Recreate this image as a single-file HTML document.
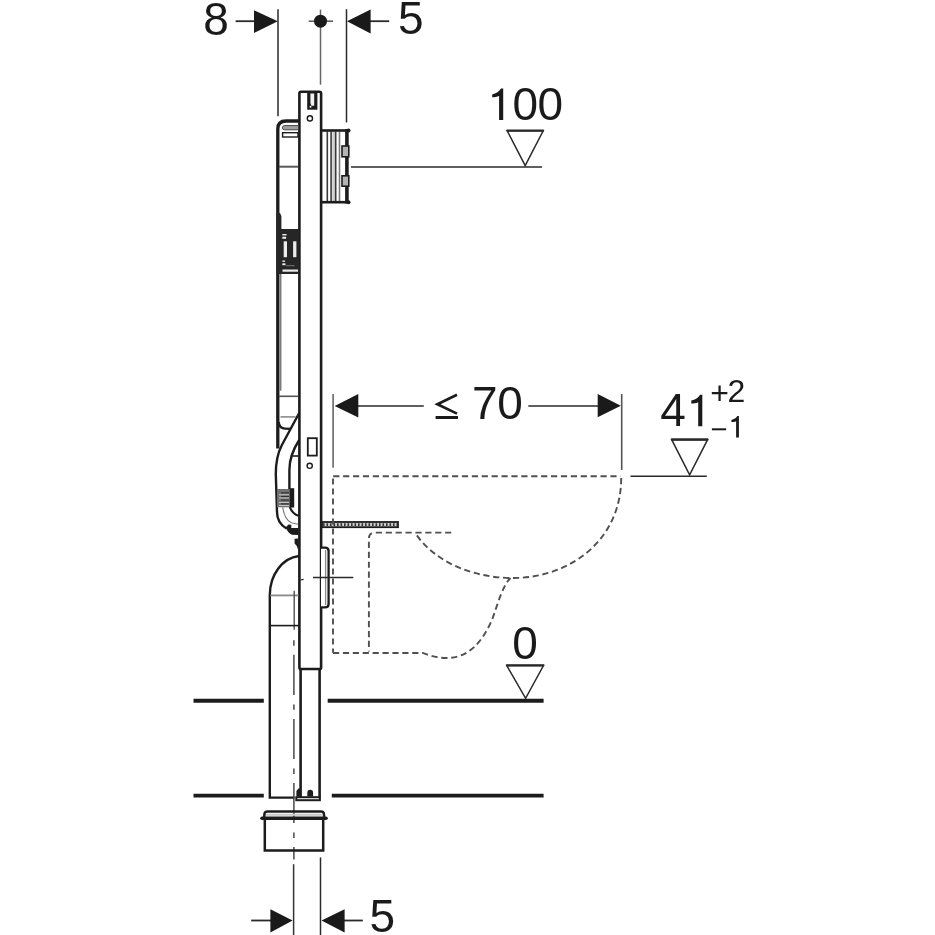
<!DOCTYPE html>
<html><head><meta charset="utf-8">
<style>
html,body{margin:0;padding:0;background:#fff;width:935px;height:935px;overflow:hidden}
svg{display:block;will-change:transform}
text{font-family:"Liberation Sans",sans-serif;fill:#1a1a1a}
</style></head>
<body>
<svg width="935" height="935" viewBox="0 0 935 935">
<rect width="935" height="935" fill="#fff"/>

<!-- ===== top dimensions ===== -->
<g stroke="#2a2a2a" stroke-width="1.5" fill="none">
  <line x1="235.6" y1="21.2" x2="255" y2="21.2" stroke-width="1.8"/>
  <line x1="278" y1="9.2" x2="278" y2="116.3"/>
  <line x1="308.7" y1="21.2" x2="333.1" y2="21.2" stroke="#555"/>
  <line x1="320.5" y1="9.6" x2="320.5" y2="84.7" stroke="#666"/>
  <line x1="346.5" y1="9.2" x2="346.5" y2="122.4"/>
  <line x1="369.6" y1="21.2" x2="389.2" y2="21.2" stroke-width="1.8"/>
</g>
<g fill="#1a1a1a">
  <polygon points="254,10.3 254,33.1 277.8,21.2"/>
  <circle cx="320.5" cy="21.2" r="6.5"/>
  <polygon points="347,21.2 370.6,9.6 370.6,33.4"/>
</g>
<text x="203.2" y="35.2" font-size="46">8</text>
<text x="397.9" y="33.8" font-size="46">5</text>

<!-- ===== frame ===== -->
<g stroke="#1c1c1c" fill="none" stroke-width="2.6">
  <rect x="299.4" y="91.8" width="21.7" height="577.2" rx="1.6"/>
  <line x1="300.6" y1="669" x2="300.6" y2="797"/>
  <line x1="319.6" y1="669" x2="319.6" y2="797"/>
  <rect x="296.3" y="797.2" width="23.6" height="3" stroke-width="2"/>
</g>
<g fill="#1c1c1c">
  <path d="M296.4,796.5 L296.4,791 L298.4,788.6 L301,788.6 L301,796.5 Z"/>
  <path d="M307.3,796.5 L307.3,793 Q307.3,789.8 310.2,789.8 Q313.1,789.8 313.1,793 L313.1,796.5 Z"/>
  <rect x="307.2" y="93" width="10.2" height="16.7"/>
</g>
<path d="M310.4,93.6 L314.2,93.6 L314.2,105.8 L311.4,105.8 L310.4,103 Z" fill="#f2f2f2"/>
<circle cx="310.5" cy="106.8" r="1" fill="#eee"/>
<g stroke="#1c1c1c" fill="none" stroke-width="1.4">
  <circle cx="309.9" cy="118.4" r="2.6"/>
  <rect x="307.8" y="438.2" width="9" height="17.4" stroke-width="1.8"/>
  <circle cx="309.7" cy="465.8" r="2.6"/>
</g>

<!-- ===== flush plate ===== -->
<rect x="332.3" y="132" width="3" height="69" fill="#cfcfcf"/>
<g stroke="#3a3a3a" stroke-width="1.6">
  <line x1="327.3" y1="131.5" x2="327.3" y2="201"/>
  <line x1="331.1" y1="131.5" x2="331.1" y2="201"/>
  <line x1="335.7" y1="131.5" x2="335.7" y2="201"/>
  <line x1="339.5" y1="131.5" x2="339.5" y2="201" stroke="#777"/>
</g>
<g stroke="#1c1c1c" fill="none">
  <line x1="321" y1="130.5" x2="349" y2="130.5" stroke-width="2.6"/>
  <line x1="321" y1="202.2" x2="349" y2="202.2" stroke-width="2.6"/>
  <line x1="346.9" y1="129" x2="346.9" y2="203.5" stroke-width="3.6"/>
  <rect x="342" y="146" width="6.8" height="10.8" stroke-width="1.6" fill="#b4b4b4"/>
  <rect x="342" y="175.8" width="6.8" height="10.4" stroke-width="1.6" fill="#b4b4b4"/>
</g>
<circle cx="348.5" cy="130.6" r="2" fill="#1c1c1c"/>
<circle cx="348.5" cy="202.2" r="2" fill="#1c1c1c"/>

<!-- ===== tank ===== -->
<g stroke="#1c1c1c" fill="none">
  <path d="M277.8,448.5 L277.8,129 Q277.8,121 286,121 L299,121" stroke-width="3.3"/>
  <line x1="279" y1="166.7" x2="298" y2="166.7" stroke="#5a5a5a" stroke-width="2"/>
  <line x1="280.6" y1="274" x2="280.6" y2="390.7" stroke="#7a7a7a" stroke-width="1.7"/>
  <line x1="279" y1="396.3" x2="298" y2="396.3" stroke="#555" stroke-width="1.6"/>
  <rect x="282.6" y="132.7" width="15.4" height="4.3" stroke-width="1.4"/>
</g>
<path d="M284.6,125.6 L298.5,125.6 L298.5,129.8 L284.6,129.8 Q282.4,129.8 282.4,127.7 Q282.4,125.6 284.6,125.6 Z" fill="#a0a0a0" stroke="#444" stroke-width="1"/>
<g fill="#1c1c1c">
  <path d="M276.4,213 L280,213 L281.4,216 L281.4,274 L276.4,274 Z" fill="#262626"/>
  <rect x="279" y="229" width="20" height="45" fill="#262626"/>
</g>
<g fill="#ececec">
  <rect x="283.7" y="241.3" width="3.3" height="15.9"/>
  <rect x="293.1" y="241.3" width="3.3" height="15.9"/>
  <rect x="282.3" y="234" width="4.3" height="1.4"/>
  <rect x="282.3" y="236.7" width="3.8" height="2.1"/>
  <rect x="282.3" y="260.5" width="2.8" height="1.3"/>
  <rect x="282.3" y="263.3" width="3.2" height="1.9"/>
  <rect x="282.5" y="269.5" width="15.5" height="2.2"/>
</g>
<rect x="286" y="265.2" width="8.5" height="1" fill="#777"/>

<!-- tank bottom / hose -->
<g stroke="#1c1c1c" fill="none" stroke-width="2.4">
  <line x1="280.5" y1="416.9" x2="295.5" y2="416.9" stroke="#8a8a8a" stroke-width="1.6"/>
  <path d="M278.6,422 Q279.5,428.6 285,428.6 L291,428.8" stroke-width="2.3"/>
  <path d="M299.2,413 L281.9,445 C279,450.5 275.8,460 275.8,474 L277,512 C277,519 280.5,525 286.5,528.5"/>
  <path d="M299.2,440 C294,448 289.4,458 289.4,470 L289.4,489"/>
  <line x1="292.6" y1="456" x2="299.6" y2="456" stroke-width="1.6"/>
  <path d="M289.9,507 Q292,513.5 298.5,515.8" stroke-width="2.2"/>
  <path d="M282.7,507.4 Q284.5,519.5 291.3,522.8 L298,524.2" stroke="#777" stroke-width="1.1"/>
</g>
<rect x="277" y="489" width="12.4" height="18.3" fill="#707070"/>
<g stroke="#c4c4c4" stroke-width="1.1">
  <line x1="279" y1="494.8" x2="289" y2="494.8"/>
  <line x1="279" y1="498" x2="289" y2="498"/>
  <line x1="279" y1="502.5" x2="289" y2="502.5"/>
  <line x1="279" y1="505.5" x2="289" y2="505.5"/>
</g>
<g stroke="#2a2a2a" stroke-width="1">
  <line x1="281" y1="492.9" x2="289" y2="492.9"/>
  <line x1="281" y1="496.4" x2="289" y2="496.4"/>
  <line x1="281" y1="500" x2="289" y2="500"/>
  <line x1="281" y1="503.9" x2="289" y2="503.9"/>
</g>
<rect x="289.4" y="488.2" width="4.8" height="19.3" fill="#1c1c1c"/>
<path d="M285.6,527.4 L288.5,524.6 L291.3,524.8 L291.3,528.1 L298.5,528.1 L298.5,534.9 L292,534.7 C289.5,534 287.3,531 285.6,527.4 Z" fill="#1c1c1c"/>
<path d="M294.6,538.7 L298.5,538.5 L298.5,551 L296.8,546 L294.6,543.5 Z" fill="#1c1c1c"/>

<!-- ===== drain elbow ===== -->
<g stroke="#1c1c1c" fill="none" stroke-width="2.6">
  <path d="M299,556 C282,558 270,575 269.8,594.7 L269.8,797.6 L294.5,797.6" stroke-width="2.4"/>
  <line x1="270.3" y1="595.4" x2="298.5" y2="595.4" stroke="#8a8a8a" stroke-width="1.8"/>
  <line x1="294.2" y1="590.8" x2="294.2" y2="629.7" stroke="#444" stroke-width="1.3"/>
  <line x1="269.8" y1="625.6" x2="299" y2="625.6" stroke-width="1.6"/>
  <line x1="293.9" y1="640.3" x2="293.9" y2="859.4" stroke="#3c3c3c" stroke-width="1.4" stroke-dasharray="5.4,9.1,40.1,9.5"/>
  <line x1="293.6" y1="864.2" x2="293.6" y2="935" stroke="#333" stroke-width="1.5"/>
</g>

<!-- wall bracket -->
<g stroke="#1c1c1c" fill="none">
  <path d="M321,547.6 L325,547.6 Q328.6,547.6 328.6,551 L328.6,604 Q328.6,607.4 325,607.4 L321,607.4" stroke-width="2.3" fill="#fff"/>
  <line x1="325.6" y1="550" x2="325.6" y2="605" stroke="#8a8a8a" stroke-width="1.3"/>
  <line x1="313" y1="577.5" x2="353.3" y2="577.5" stroke="#2a2a2a" stroke-width="1.4"/>
  <line x1="300.5" y1="580" x2="303.6" y2="579.4" stroke-width="1.2"/>
</g>

<!-- ribbed bracket -->
<rect x="322" y="522" width="76" height="5.2" fill="#cfcfcf" stroke="#1c1c1c" stroke-width="1.8"/>
<line x1="323" y1="524.6" x2="397" y2="524.6" stroke="#333" stroke-width="2.6" stroke-dasharray="1.6,1.9"/>

<!-- ===== WC outline (dashed) ===== -->
<g stroke="#505050" fill="none" stroke-width="1.9" stroke-dasharray="6.2,3.7">
  <path d="M333.2,476.2 L620.5,476.2"/>
  <path d="M333,478.6 L333,652.8" stroke-dasharray="6,4"/>
  <path d="M333,653 L422.7,653 C430,655.5 437,658 446.6,658 C470,658 483,640 492,620 C498,603 503,585 510.5,578"/>
  <path d="M621.2,478 C621.2,540 570,578 513,578 C470,578 433,560 415.4,533.2"/>
  <path d="M451.3,532.6 L375,532.6 Q368.9,532.6 368.9,538.7 L368.9,651.6"/>
</g>
<line x1="621.7" y1="394" x2="621.7" y2="470" stroke="#555" stroke-width="1.6"/>
<line x1="333.1" y1="394" x2="333.1" y2="467.8" stroke="#666" stroke-width="1.6"/>

<!-- ≤70 dimension -->
<g stroke="#2a2a2a" stroke-width="1.5">
  <line x1="357" y1="405.9" x2="423.8" y2="405.9"/>
  <line x1="528.3" y1="406" x2="599" y2="406"/>
</g>
<g fill="#1a1a1a">
  <polygon points="334.7,405.9 358.3,394 358.3,417.5"/>
  <polygon points="597.7,394 597.7,417.2 620.8,405.8"/>
</g>
<polyline points="457,394.8 437.4,404.2 457,413.6" fill="none" stroke="#1a1a1a" stroke-width="2.7"/><rect x="435.6" y="416" width="22.4" height="3" fill="#1a1a1a"/>
<text x="472" y="419.2" font-size="46">7</text><text x="497.2" y="419.4" font-size="46">0</text>

<!-- ===== levels ===== -->
<g stroke="#2a2a2a" fill="none" stroke-width="1.5">
  <line x1="351" y1="167" x2="542" y2="167"/>
  <polygon points="507.2,130.8 543.2,130.8 525.2,165.6"/>
  <line x1="506.6" y1="130.6" x2="543.8" y2="130.6" stroke-width="2.3"/>
  <line x1="630.5" y1="476.3" x2="706.8" y2="476.3"/>
  <polygon points="671.7,439.7 707.6,439.7 689.6,474.8"/>
  <line x1="671.1" y1="439.5" x2="708.2" y2="439.5" stroke-width="2.3"/>
  <polygon points="506.8,665.6 543.5,665.6 525.6,698.3"/>
  <line x1="506.2" y1="665.4" x2="544.1" y2="665.4" stroke-width="2.3"/>
</g>
<path d="M503.20,88.60 L503.20,120.00 L499.10,120.00 L499.10,96.00 C497.00,97.00 494.50,97.30 492.20,97.30 L492.20,94.40 C496.00,93.50 499.50,91.50 501.00,88.60 Z" fill="#1a1a1a"/><text x="512.4" y="120.2" font-size="46">0</text><text x="537.6" y="120.2" font-size="46">0</text>
<text x="660.2" y="426.2" font-size="46">4</text><path d="M702.30,394.80 L702.30,426.20 L698.20,426.20 L698.20,402.20 C696.10,403.20 693.60,403.50 691.30,403.50 L691.30,400.60 C695.10,399.70 698.60,397.70 700.10,394.80 Z" fill="#1a1a1a"/>
<text x="710.2" y="403.6" font-size="32">+</text><text x="727.4" y="401.9" font-size="32">2</text>
<rect x="711.9" y="428.3" width="14.2" height="2" fill="#1a1a1a"/><path d="M738.90,416.10 L738.90,437.40 L736.11,437.40 L736.11,421.13 C734.68,421.81 732.98,422.02 731.42,422.02 L731.42,420.04 C734.00,419.43 736.38,418.07 737.40,416.10 Z" fill="#1a1a1a"/>
<text x="512.3" y="658.8" font-size="46">0</text>

<!-- floor lines -->
<g stroke="#1c1c1c" stroke-width="3.9">
  <line x1="193.5" y1="700.7" x2="263.8" y2="700.7"/>
  <line x1="327.7" y1="700.7" x2="543.6" y2="700.7"/>
  <line x1="193.5" y1="795.6" x2="263.8" y2="795.6"/>
  <line x1="331.8" y1="795.6" x2="543.6" y2="795.6"/>
</g>

<!-- ===== socket ===== -->
<g stroke="#1c1c1c" fill="none" stroke-width="2.5">
  <path d="M264.2,817 L264.5,813.5 Q265,811.4 267.5,811.4 L321,811.4 Q323.5,811.4 323.8,813.5 L324.2,817"/>
  <line x1="266" y1="814.8" x2="322.5" y2="814.8" stroke="#c8c8c8" stroke-width="2"/>
  <line x1="262" y1="818.3" x2="326" y2="818.3" stroke-width="3.6" stroke-linecap="round"/>
  <path d="M264.8,818 L264.8,850.6 L323.2,850.6 L323.2,818"/>
</g>

<!-- ===== bottom dims ===== -->
<g stroke="#2a2a2a" stroke-width="1.5">
  <line x1="320.5" y1="857.4" x2="320.5" y2="935"/>
  <line x1="251.2" y1="920.5" x2="271.5" y2="920.5" stroke-width="1.8"/>
  <line x1="343.5" y1="920.5" x2="362.8" y2="920.5" stroke-width="1.8"/>
</g>
<g fill="#1a1a1a">
  <polygon points="270.4,909.3 270.4,932.4 292.6,920.5"/>
  <polygon points="321.5,920.5 344.6,909.3 344.6,932.4"/>
</g>
<text x="369.6" y="931.8" font-size="46">5</text>
</svg>
</body></html>
